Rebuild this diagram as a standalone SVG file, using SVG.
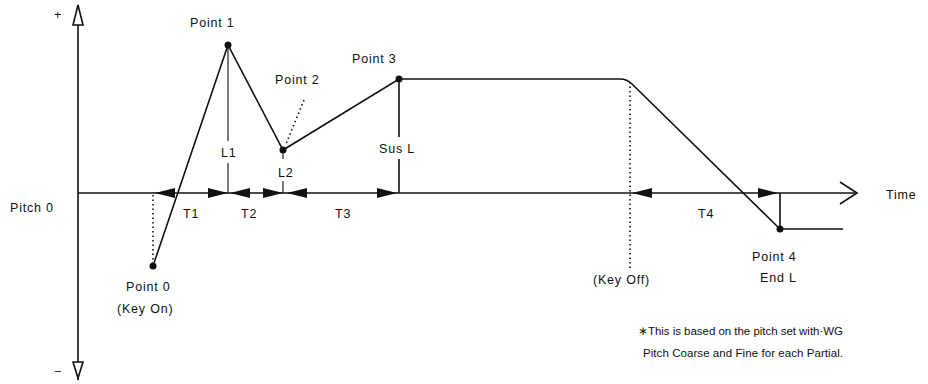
<svg xmlns="http://www.w3.org/2000/svg" width="928" height="384" viewBox="0 0 928 384">
<style>
text{font-family:"Liberation Sans",Arial,sans-serif;font-size:12.5px;fill:#111;letter-spacing:0.8px}
text.note{font-size:11.5px;letter-spacing:0}
.ln{stroke:#111;stroke-width:1.6;fill:none}
.th{stroke:#111;stroke-width:1.1;fill:none}
.dot{stroke:#111;stroke-width:1.6;fill:none;stroke-dasharray:1.5 3}
.pt{fill:#111}
.ah{fill:#111}
</style>
<rect width="928" height="384" fill="#fff"/>
<g id="axes">
<line class="ln" x1="78" y1="8" x2="78" y2="380"/>
<polygon points="78,5 73,25 83,25" fill="#fff" stroke="#111" stroke-width="1.6"/>
<polygon points="78,378 73,362 83,362" fill="#fff" stroke="#111" stroke-width="1.6"/>
<text x="54" y="19">+</text>
<text x="54" y="376">−</text>
<line class="ln" x1="78" y1="193" x2="855" y2="193"/>
<polyline class="ln" points="840,182 857,193 840,204"/>
<text x="10" y="212">Pitch 0</text>
<text x="886" y="199">Time</text>
</g>
<g id="envelope">
<path class="ln" d="M153,266 L228,45 L283,150 L399,79 L620,79 Q627,79 632,84 L780,229 L843,229"/>
</g>
<g id="connectors">
<line class="dot" x1="153" y1="195" x2="153" y2="264"/>
<line class="th" x1="228" y1="45" x2="228" y2="141"/>
<line class="th" x1="228" y1="163" x2="228" y2="193"/>
<line class="th" x1="283" y1="150" x2="283" y2="159"/>
<line class="th" x1="283" y1="181" x2="283" y2="193"/>
<line class="ln" x1="399" y1="79" x2="399" y2="137"/>
<line class="ln" x1="399" y1="159" x2="399" y2="193"/>
<line class="dot" x1="630" y1="82" x2="630" y2="268"/>
<line class="ln" x1="780" y1="193" x2="780" y2="229"/>
<line class="dot" x1="304" y1="100" x2="286" y2="144"/>
<polygon class="ah" points="155,193 175,188 175,198"/>
<polygon class="ah" points="228,193 208,188 208,198"/>
<polygon class="ah" points="230,193 250,188 250,198"/>
<polygon class="ah" points="283,193 263,188 263,198"/>
<polygon class="ah" points="287,193 307,188 307,198"/>
<polygon class="ah" points="397,193 377,188 377,198"/>
<polygon class="ah" points="632,193 652,188 652,198"/>
<polygon class="ah" points="778,193 758,188 758,198"/>
</g>
<g id="points">
<circle class="pt" cx="153" cy="266" r="3.5"/>
<circle class="pt" cx="228" cy="45" r="3.5"/>
<circle class="pt" cx="283" cy="150" r="3.5"/>
<circle class="pt" cx="399" cy="79" r="3.5"/>
<circle class="pt" cx="780" cy="229" r="3.5"/>
</g>
<g id="labels">
<text x="190" y="27">Point 1</text>
<text x="275" y="84">Point 2</text>
<text x="352" y="63">Point 3</text>
<text x="221" y="157">L1</text>
<text x="278" y="177">L2</text>
<text x="379" y="153">Sus L</text>
<text x="183" y="218">T1</text>
<text x="241" y="218">T2</text>
<text x="335" y="218">T3</text>
<text x="698" y="218">T4</text>
<text x="126" y="291">Point 0</text>
<text x="117" y="313">(Key On)</text>
<text x="593" y="284">(Key Off)</text>
<text x="752" y="261">Point 4</text>
<text x="760" y="282">End L</text>
<text class="note" x="638" y="335" textLength="205" lengthAdjust="spacing">∗This is based on the pitch set with·WG</text>
<text class="note" x="643" y="357" textLength="200" lengthAdjust="spacing">Pitch Coarse and Fine for each Partial.</text>
</g>
</svg>
